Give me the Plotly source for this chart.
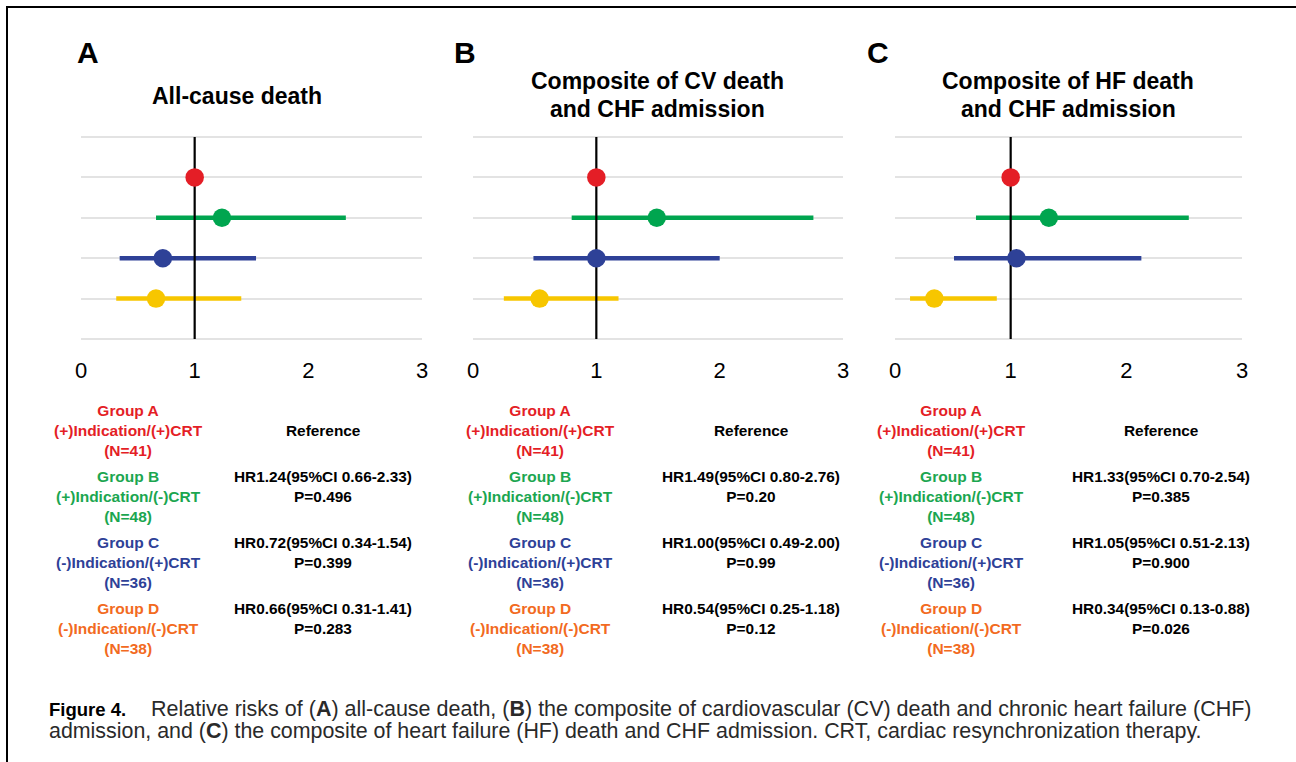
import plotly.graph_objects as go

W, H = 1296, 762

# ---------------- data ----------------
groups = ["Group A", "Group B", "Group C", "Group D"]
indications = ["(+)Indication/(+)CRT", "(+)Indication/(-)CRT", "(-)Indication/(+)CRT", "(-)Indication/(-)CRT"]
n_values = [41, 48, 36, 38]
rows = [4, 3, 2, 1]

panel_letters = ["A", "B", "C"]
panel_titles = [["All-cause death"],
                ["Composite of CV death", "and CHF admission"],
                ["Composite of HF death", "and CHF admission"]]

hr_A = [1.00, 1.24, 0.72, 0.66]
lo_A = [None, 0.66, 0.34, 0.31]
hi_A = [None, 2.33, 1.54, 1.41]
p_A = [None, "0.496", "0.399", "0.283"]

hr_B = [1.00, 1.49, 1.00, 0.54]
lo_B = [None, 0.80, 0.49, 0.25]
hi_B = [None, 2.76, 2.00, 1.18]
p_B = [None, "0.20", "0.99", "0.12"]

hr_C = [1.00, 1.33, 1.05, 0.34]
lo_C = [None, 0.70, 0.51, 0.13]
hi_C = [None, 2.54, 2.13, 0.88]
p_C = [None, "0.385", "0.900", "0.026"]

x_ticks = [0, 1, 2, 3]

panels = [(hr_A, lo_A, hi_A, p_A), (hr_B, lo_B, hi_B, p_B), (hr_C, lo_C, hi_C, p_C)]

# ---------------- styles ----------------
marker_colors = ["#e41e26", "#00a54f", "#2e4197", "#f7c600"]
text_colors = ["#e41e26", "#1ba650", "#2e4197", "#f26a21"]
FONT = "Liberation Sans, Arial, sans-serif"

x_dom_px = [(81, 422), (473, 843), (895, 1242)]
y_top_px, y_bot_px = 137, 339
pad = 0.04
unit = (y_bot_px - y_top_px) / 5
letter_x = [88, 465, 878]
title_cx = [237, 657, 1068]
grp_cx = [128, 540, 951]
hr_cx = [323, 751, 1161]
grp_cy = [430, 496, 562, 628]


def fx(px):
    return px / W


def fy(py):
    return 1 - py / H


fig = go.Figure()
annotations = []

for i, (hr, lo, hi, pv) in enumerate(panels):
    xa = "x" if i == 0 else f"x{i+1}"
    ya = "y" if i == 0 else f"y{i+1}"
    # CI lines
    for g in range(4):
        if lo[g] is not None:
            fig.add_trace(go.Scatter(x=[lo[g], hi[g]], y=[rows[g], rows[g]], mode="lines",
                                     line=dict(color=marker_colors[g], width=4.5),
                                     xaxis=xa, yaxis=ya, showlegend=False, hoverinfo="skip"))
    # reference line at HR = 1
    fig.add_trace(go.Scatter(x=[1, 1], y=[0, 5], mode="lines", line=dict(color="black", width=2.2),
                             xaxis=xa, yaxis=ya, showlegend=False, hoverinfo="skip"))
    # point estimates
    fig.add_trace(go.Scatter(x=hr, y=rows, mode="markers",
                             marker=dict(color=marker_colors, size=18.5, line=dict(width=0)),
                             xaxis=xa, yaxis=ya, showlegend=False))

    x0, x1 = x_dom_px[i]
    axkey = "xaxis" if i == 0 else f"xaxis{i+1}"
    aykey = "yaxis" if i == 0 else f"yaxis{i+1}"
    fig.update_layout(**{
        axkey: dict(domain=[fx(x0), fx(x1)], range=[0, 3], anchor=ya, automargin=False,
                    tickvals=x_ticks, ticktext=[str(t) for t in x_ticks],
                    showgrid=False, zeroline=False, showline=False, ticks="",
                    tickfont=dict(family=FONT, size=22, color="black"), ticklabelstandoff=14),
        aykey: dict(domain=[fy(y_bot_px + pad * unit), fy(y_top_px - pad * unit)],
                    range=[-pad, 5 + pad], anchor=xa, automargin=False,
                    tickvals=[0, 1, 2, 3, 4, 5], showticklabels=False, showgrid=True,
                    gridcolor="#e3e3e3", gridwidth=1.5, zeroline=False, showline=False, ticks=""),
    })

    # panel letter
    annotations.append(dict(x=fx(letter_x[i]), y=fy(52), xref="paper", yref="paper",
                            text=f"<b>{panel_letters[i]}</b>", showarrow=False,
                            font=dict(family=FONT, size=30, color="black"),
                            xanchor="center", yanchor="middle"))
    # titles
    tl = panel_titles[i]
    ys = [96] if len(tl) == 1 else [81, 109]
    for line, yy in zip(tl, ys):
        annotations.append(dict(x=fx(title_cx[i]), y=fy(yy), xref="paper", yref="paper",
                                text=f"<b>{line}</b>", showarrow=False,
                                font=dict(family=FONT, size=23, color="black"),
                                xanchor="center", yanchor="middle"))
    # table
    for g in range(4):
        annotations.append(dict(x=fx(grp_cx[i]), y=fy(grp_cy[g]), xref="paper", yref="paper",
                                text=f"<b>{groups[g]}<br>{indications[g]}<br>(N={n_values[g]})</b>",
                                showarrow=False, align="center",
                                font=dict(family=FONT, size=15.5, color=text_colors[g]),
                                xanchor="center", yanchor="middle"))
        if g == 0:
            txt = "<b>Reference</b>"
            cy = grp_cy[g]
        else:
            txt = f"<b>HR{hr[g]:.2f}(95%CI {lo[g]:.2f}-{hi[g]:.2f})<br>P={pv[g]}</b>"
            cy = grp_cy[g] - 9.5
        annotations.append(dict(x=fx(hr_cx[i]), y=fy(cy), xref="paper", yref="paper",
                                text=txt, showarrow=False, align="center",
                                font=dict(family=FONT, size=15.4, color="black"),
                                xanchor="center", yanchor="middle"))

# caption
CAP = "Liberation Sans, Arial, sans-serif"
annotations.append(dict(x=fx(47), y=fy(709), xref="paper", yref="paper",
                        text="<b>Figure 4.</b>", showarrow=False,
                        font=dict(family=CAP, size=18.5, color="#000000"),
                        xanchor="left", yanchor="middle"))
annotations.append(dict(x=fx(149), y=fy(709), xref="paper", yref="paper",
                        text="Relative risks of (<b>A</b>) all-cause death, (<b>B</b>) the composite of cardiovascular (CV) death and chronic heart failure (CHF)",
                        showarrow=False, font=dict(family=CAP, size=21.5, color="#2a2a2a"),
                        xanchor="left", yanchor="middle"))
annotations.append(dict(x=fx(47), y=fy(731), xref="paper", yref="paper",
                        text="admission, and (<b>C</b>) the composite of heart failure (HF) death and CHF admission. CRT, cardiac resynchronization therapy.",
                        showarrow=False, font=dict(family=CAP, size=21.4, color="#2a2a2a"),
                        xanchor="left", yanchor="middle"))

shapes = [dict(type="path", xref="paper", yref="paper",
               path=f"M {fx(7)} {fy(762)} L {fx(7)} {fy(7)} L {fx(1296)} {fy(7)}",
               line=dict(color="black", width=2))]

fig.update_layout(width=W, height=H, margin=dict(l=0, r=0, t=0, b=0, pad=0, autoexpand=False),
                  paper_bgcolor="white", plot_bgcolor="white",
                  annotations=annotations, shapes=shapes, showlegend=False)

fig.write_html("out.html", config={"displayModeBar": False},
               post_script="document.body.style.margin='0';document.body.style.padding='0';"
                           "document.documentElement.style.overflow='hidden';document.body.style.overflow='hidden';")
